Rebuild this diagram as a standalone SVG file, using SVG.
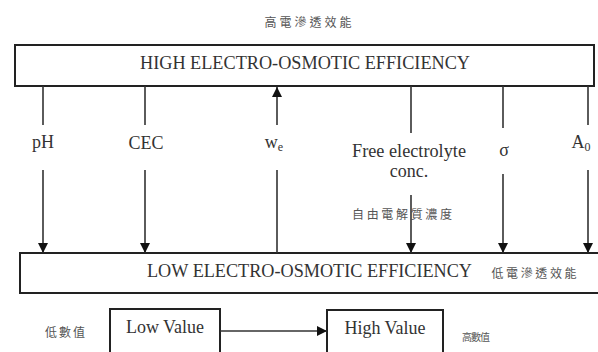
<svg xmlns="http://www.w3.org/2000/svg" width="598" height="352" viewBox="0 0 598 352">
<style>
.box{fill:#fff;stroke:#222;stroke-width:2}
.ln{stroke:#333;stroke-width:1.6;fill:none}
.t{font-family:"Liberation Serif","Times New Roman",serif;font-size:18px;fill:#333}
.cjk{font-family:"Noto Sans CJK TC","Noto Sans CJK SC",sans-serif;fill:#555}
</style>
<defs>
<marker id="ah" viewBox="0 0 10 10" refX="10" refY="5" markerWidth="10" markerHeight="10" markerUnits="userSpaceOnUse" orient="auto">
<path d="M0,0 L10,5 L0,10 Z" fill="#111"/>
</marker>
</defs>
<rect width="598" height="352" fill="#fff"/>
<text class="cjk" x="308" y="27" font-size="12" text-anchor="middle" textLength="87" lengthAdjust="spacing">高電滲透效能</text>
<g id="high">
<rect class="box" x="15" y="45" width="579" height="41"/>
<text class="t" x="305" y="69" text-anchor="middle" textLength="330" lengthAdjust="spacingAndGlyphs">HIGH ELECTRO-OSMOTIC EFFICIENCY</text>
</g>
<g id="low">
<rect class="box" x="20" y="253" width="590" height="40"/>
<text class="t" x="309.5" y="277" text-anchor="middle" textLength="325" lengthAdjust="spacingAndGlyphs">LOW ELECTRO-OSMOTIC EFFICIENCY</text>
<text class="cjk" x="534" y="278" font-size="12" text-anchor="middle" textLength="85" lengthAdjust="spacing">低電滲透效能</text>
</g>
<g id="ph"><text class="t" x="43" y="148" text-anchor="middle">pH</text></g>
<g id="cec"><text class="t" x="146" y="149" text-anchor="middle">CEC</text></g>
<g id="we"><text class="t" x="274" y="148" text-anchor="middle">w<tspan font-size="12" dy="3">e</tspan></text></g>
<g id="free">
<text class="t" x="409" y="157" text-anchor="middle" textLength="114" lengthAdjust="spacingAndGlyphs">Free electrolyte</text>
<text class="t" x="409" y="177" text-anchor="middle">conc.</text>
<text class="cjk" x="402" y="219" font-size="12" text-anchor="middle" textLength="100" lengthAdjust="spacing">自由電解質濃度</text>
</g>
<g id="sigma"><text class="t" x="504" y="156" text-anchor="middle">σ</text></g>
<g id="a0"><text class="t" x="581" y="148" text-anchor="middle">A<tspan font-size="12" dy="3">0</tspan></text></g>
<g id="lowvalue">
<rect class="box" x="110" y="309" width="110" height="60"/>
<text class="t" x="165" y="333" text-anchor="middle">Low Value</text>
<text class="cjk" x="65" y="337" font-size="12" text-anchor="middle" textLength="40" lengthAdjust="spacing">低數值</text>
</g>
<g id="highvalue">
<rect class="box" x="327" y="310" width="116" height="60"/>
<text class="t" x="385" y="334" text-anchor="middle">High Value</text>
<text class="cjk" x="476" y="341" font-size="10" text-anchor="middle" textLength="28" lengthAdjust="spacing">高數值</text>
</g>
<g id="connectors">
<line class="ln" x1="43" y1="86" x2="43" y2="125"/>
<line class="ln" x1="43" y1="170" x2="43" y2="253" marker-end="url(#ah)"/>
<line class="ln" x1="145" y1="86" x2="145" y2="125"/>
<line class="ln" x1="145" y1="170" x2="145" y2="253" marker-end="url(#ah)"/>
<line class="ln" x1="277" y1="253" x2="277" y2="170"/>
<line class="ln" x1="277" y1="125" x2="277" y2="87" marker-end="url(#ah)"/>
<line class="ln" x1="411" y1="86" x2="411" y2="133"/>
<line class="ln" x1="411" y1="195" x2="411" y2="253" marker-end="url(#ah)"/>
<line class="ln" x1="503" y1="86" x2="503" y2="128"/>
<line class="ln" x1="503" y1="174" x2="503" y2="253" marker-end="url(#ah)"/>
<line class="ln" x1="588" y1="86" x2="588" y2="125"/>
<line class="ln" x1="588" y1="170" x2="588" y2="253" marker-end="url(#ah)"/>
<line class="ln" x1="220" y1="331" x2="327" y2="331" marker-end="url(#ah)"/>
</g>
</svg>
